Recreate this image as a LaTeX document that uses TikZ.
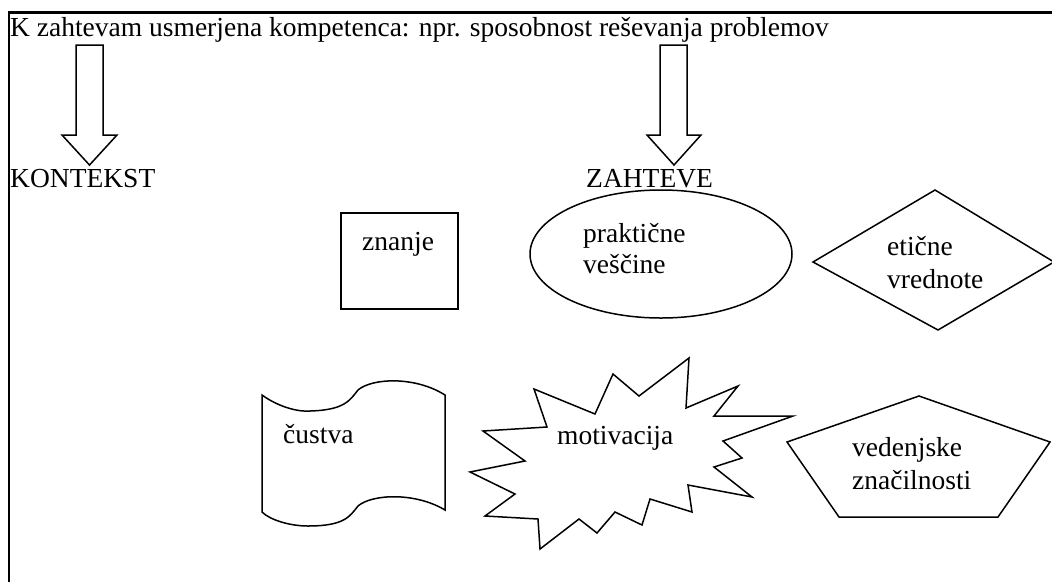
\documentclass[tikz,border=0pt]{standalone}
\usepackage{fontspec}
\setmainfont{Liberation Serif}
\begin{document}
\begin{tikzpicture}[x=1pt,y=-1pt,
  lbl/.style={anchor=base west,inner sep=0pt,font=\fontsize{27.5}{32}\selectfont},
  shp/.style={draw=black,line width=1.5pt,line join=miter,fill=white},
  frame/.style={draw=black,line width=2.2pt}]
\useasboundingbox (0,0) rectangle (1052,582);
% frame
\draw[frame] (1052,12.5) -- (9,12.5) -- (9,582);
% title
\node[lbl] (title) at (10,36) {K zahtevam usmerjena kompetenca: npr. sposobnost reševanja problemov};
% block arrows
\draw[shp] (76,45) -- (103,45) -- (103,135) -- (117,135) -- (89.5,165) -- (62,135) -- (76,135) -- cycle;
\draw[shp] (660,45) -- (687,45) -- (687,135) -- (701,135) -- (674,165) -- (647,135) -- (660,135) -- cycle;
\node[lbl] (kontekst) at (10,187) {KONTEKST};
\node[lbl] (zahteve) at (586,187) {ZAHTEVE};
% znanje
\draw[shp] (341,213) rectangle (458,309);
\node[lbl] (znanje) at (362,250) {znanje};
% ellipse
\draw[shp] (661,254) ellipse [x radius=131, y radius=64];
\node[lbl] (prak1) at (583,242) {praktične};
\node[lbl] (prak2) at (583,273) {veščine};
% diamond
\draw[shp] (813,262) -- (935,190) -- (1054,262) -- (938,330) -- cycle;
\node[lbl] (et1) at (887,255) {etične};
\node[lbl] (et2) at (887,288) {vrednote};
% wave
\draw[shp] (262,395) .. controls (280,408) and (300,412) .. (310,411)
  .. controls (345,410) and (350,400) .. (358,390)
  .. controls (372,378) and (415,376) .. (445,395)
  -- (445,510)
  .. controls (415,492) and (372,494) .. (358,506)
  .. controls (350,516) and (345,526) .. (308,526)
  .. controls (290,526) and (270,520) .. (262,512) -- cycle;
\node[lbl] (custva) at (283,443) {čustva};
% star
\draw[shp] (470,472) -- (525,461) -- (483,431) -- (547,427) -- (534,389) -- (595,414)
  -- (613,374) -- (639,396) -- (689,358) -- (686,408) -- (738,386) -- (714,416)
  -- (793,416) -- (723,441) -- (742,458) -- (714,467) -- (752,497) -- (688,485)
  -- (692,512) -- (650,499) -- (642,525) -- (615,512) -- (597,533) -- (579,519)
  -- (540,549) -- (538,519) -- (485,516) -- (515,494) -- cycle;
\node[lbl] (motiv) at (557,444) {motivacija};
% pentagon
\draw[shp] (919,396) -- (1050,442) -- (998,517) -- (839,517) -- (787,442) -- cycle;
\node[lbl] (ved1) at (852,456) {vedenjske};
\node[lbl] (ved2) at (852,489) {značilnosti};
\end{tikzpicture}
\end{document}
